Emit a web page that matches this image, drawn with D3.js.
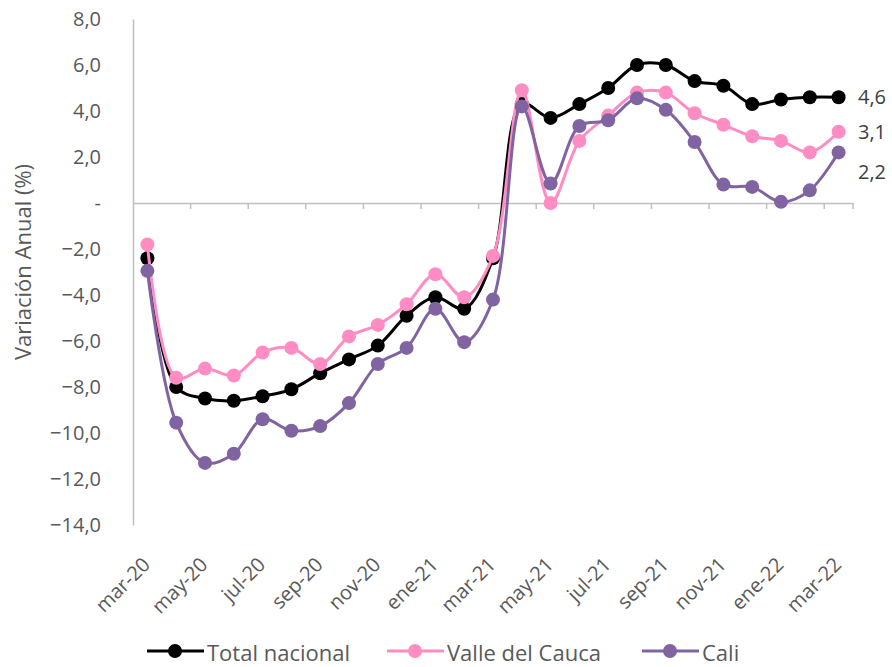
<html>
<head>
  <meta charset="utf-8">
  <title>Variación Anual</title>
  <script src="https://d3js.org/d3.v7.min.js"></script>
  <style>
    body { margin: 0; background: #fff; }
    text { font-family: "Open Sans", "Noto Sans", sans-serif; }
  </style>
</head>
<body>
  <div id="container"></div>

  <script>
    // meses (mar-20 .. mar-22)
    var months = ["mar-20","abr-20","may-20","jun-20","jul-20","ago-20","sep-20","oct-20","nov-20","dic-20","ene-21","feb-21",
                  "mar-21","abr-21","may-21","jun-21","jul-21","ago-21","sep-21","oct-21","nov-21","dic-21","ene-22","feb-22","mar-22"]

    var totalNacional = [-2.4,-8.0,-8.5,-8.6,-8.4,-8.1,-7.4,-6.8,-6.2,-4.9,-4.1,-4.6,
                         -2.4,4.3,3.7,4.3,5.0,6.0,6.0,5.3,5.1,4.3,4.5,4.6,4.6]
    var valleDelCauca = [-1.8,-7.6,-7.2,-7.5,-6.5,-6.3,-7.0,-5.8,-5.3,-4.4,-3.1,-4.1,
                         -2.3,4.9,0.0,2.7,3.8,4.8,4.8,3.9,3.4,2.9,2.7,2.2,3.1]
    var cali = [-2.95,-9.55,-11.3,-10.9,-9.4,-9.9,-9.7,-8.7,-7.0,-6.3,-4.6,-6.05,
                -4.2,4.2,0.85,3.35,3.6,4.55,4.05,2.65,0.8,0.7,0.05,0.55,2.2]

    var yTicks = [8,6,4,2,0,-2,-4,-6,-8,-10,-12,-14]
    var seriesNames = ["Total nacional","Valle del Cauca","Cali"]

    var colors = ["#000000", "#FF8CC2", "#8064A2"]
    var series = [totalNacional, valleDelCauca, cali]

    var W = 892, H = 667
    var pLeft = 133, pRight = 853, pTop = 19, pBottom = 525

    var svg = d3.select("#container").append("svg")
        .attr("width", W).attr("height", H)

    var x = d3.scaleBand().domain(months).range([pLeft, pRight]).padding(0)
    var bw = x.bandwidth()
    var cx = function(m) { return x(m) + bw / 2 }
    var y = d3.scaleLinear().domain([-14, 8]).range([pBottom, pTop])

    // y axis
    var yAxis = d3.axisLeft(y).tickValues(yTicks).tickSize(0).tickPadding(32)
        .tickFormat(function(d) { return d === 0 ? "-" : d3.format(".1f")(d).replace(".", ",") })
    var gy = svg.append("g").attr("transform", "translate(" + pLeft + ",0)").call(yAxis)
    gy.select(".domain").attr("stroke", "#BFBFBF").attr("stroke-width", 1.5)
    gy.selectAll("text").attr("fill", "#595959").style("font-size", "20px").style("font-family", "Open Sans")

    // x axis on zero line
    var tickMonths = months.filter(function(d, i) { return i % 2 === 0 })
    var xAxis = d3.axisBottom(x).tickValues(tickMonths).tickSize(0).tickFormat("")
    var gx = svg.append("g").attr("transform", "translate(0," + y(0) + ")").call(xAxis)
    gx.select(".domain").attr("stroke", "#BFBFBF").attr("stroke-width", 1.5)
    // tick marks between category pairs
    gx.selectAll(".tk").data(months.filter(function(d, i) { return i % 2 === 0 && i > 0 }).concat(["end"]))
      .enter().append("line")
        .attr("x1", function(d) { return d === "end" ? pRight : x(d) })
        .attr("x2", function(d) { return d === "end" ? pRight : x(d) })
        .attr("y1", 0).attr("y2", 6)
        .attr("stroke", "#BFBFBF").attr("stroke-width", 1.5)

    // x labels at bottom, rotated
    svg.append("g").selectAll("text").data(tickMonths).enter().append("text")
        .attr("transform", function(d) { return "translate(" + (cx(d) - 1) + "," + (pBottom + 36) + ") rotate(-45)" })
        .attr("text-anchor", "end")
        .attr("dy", "0.35em")
        .attr("fill", "#595959")
        .style("font-size", "20px")
        .text(function(d) { return d })

    // y title
    svg.append("text")
        .attr("transform", "translate(31,262) rotate(-90)")
        .attr("text-anchor", "middle")
        .attr("fill", "#595959")
        .style("font-size", "22px")
        .text("Variación Anual (%)")

    var line = d3.line()
        .x(function(d, i) { return cx(months[i]) })
        .y(function(d) { return y(d) })
        .curve(d3.curveCatmullRom.alpha(0.5))

    series.forEach(function(s, i) {
      var g = svg.append("g")
      g.append("path").datum(s)
        .attr("d", line)
        .attr("fill", "none")
        .attr("stroke", colors[i])
        .attr("stroke-width", 3)
      g.selectAll("circle").data(s).enter().append("circle")
        .attr("cx", function(d, j) { return cx(months[j]) })
        .attr("cy", function(d) { return y(d) })
        .attr("r", 7)
        .attr("fill", colors[i])
    })

    // end labels
    var labelDy = [0, 0, 20]
    series.forEach(function(s, i) {
      var v = s[s.length - 1]
      svg.append("text")
        .attr("x", 858)
        .attr("y", y(v) + labelDy[i])
        .attr("dy", "0.35em")
        .attr("fill", "#404040")
        .style("font-size", "20px")
        .text(d3.format(".1f")(v).replace(".", ","))
    })

    // legend
    var legX = [147, 387, 642]
    var lg = svg.append("g").attr("transform", "translate(0,651)")
    seriesNames.forEach(function(name, i) {
      lg.append("line").attr("x1", legX[i]).attr("x2", legX[i] + 57)
        .attr("y1", 0).attr("y2", 0)
        .attr("stroke", colors[i]).attr("stroke-width", 3)
      lg.append("circle").attr("cx", legX[i] + 28).attr("cy", 0).attr("r", 7).attr("fill", colors[i])
      lg.append("text").attr("x", legX[i] + 60).attr("y", 2).attr("dy", "0.35em")
        .attr("fill", "#595959").style("font-size", "22px").text(name)
    })
  </script>
</body>
</html>
